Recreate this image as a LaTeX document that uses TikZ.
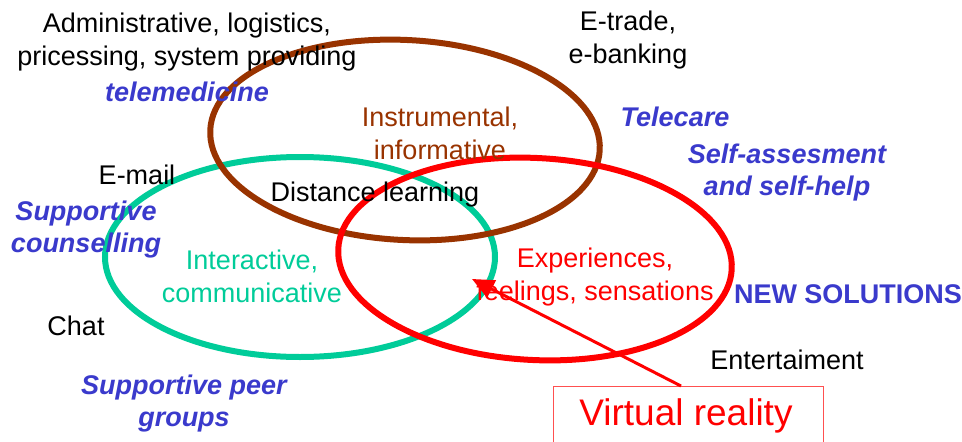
\documentclass[tikz,border=0pt]{standalone}
\usepackage{fontspec}
\setmainfont{Liberation Sans}
\usetikzlibrary{shapes.geometric,arrows.meta}
\definecolor{brownline}{RGB}{153,51,0}
\definecolor{tealline}{RGB}{0,204,153}
\definecolor{redline}{RGB}{255,0,0}
\definecolor{bluetext}{RGB}{58,58,204}
\definecolor{boxline}{RGB}{255,80,80}
\tikzset{
  ring/.style={ellipse, draw, line width=6pt, minimum width=390pt, minimum height=200pt, inner sep=0pt},
  lbl/.style={font=\fontsize{27}{33}\selectfont, align=center, inner sep=0pt},
  blue lbl/.style={lbl, text=bluetext, font=\fontsize{27}{32}\selectfont\bfseries\itshape},
}
\begin{document}
\begin{tikzpicture}[x=1pt,y=-1pt]
\useasboundingbox (0,0) rectangle (962,442);
\fill[white] (0,0) rectangle (962,442);
% the three overlapping domains
\node[ring, draw=tealline] (interactive) at (300,257) {};
\node[ring, draw=brownline, rotate=-3] (instrumental) at (405,140) {};
\node[ring, draw=redline, minimum width=394pt, minimum height=202pt, rotate=-3] (experiences) at (535,259) {};
% labels of the domains
\node[lbl, text=brownline] (instrlbl) at (440,133) {Instrumental,\\informative};
\node[lbl, text=tealline] (interlbl) at (252,276) {Interactive,\\communicative};
\node[lbl, text=redline] (experlbl) at (595,277) {Experiences,\\feelings, sensations};
% services
\node[lbl] (admin) at (187,42) {Administrative, logistics,\\pricessing, system providing};
\node[lbl] (etrade) at (628,40) {E-trade,\\e-banking};
\node[lbl] (email) at (137,175) {E-mail};
\node[lbl] (distance) at (375,195) {Distance learning};
\node[lbl] (chat) at (76,326) {Chat};
\node[lbl] (entert) at (787,360) {Entertaiment};
% applications
\node[blue lbl] (telemed) at (187,92) {telemedicine};
\node[blue lbl] (telecare) at (675,117) {Telecare};
\node[blue lbl] (selfhelp) at (787,173) {Self-assesment\\and self-help};
\node[blue lbl] (counsel) at (86,230) {Supportive\\counselling};
\node[blue lbl] (peer) at (184,404) {Supportive peer\\groups};
\node[lbl, text=bluetext, font=\fontsize{27}{32}\selectfont\bfseries] (newsol) at (848,294) {NEW SOLUTIONS};
% virtual reality callout
\node[draw=boxline, line width=1.2pt, minimum width=270pt, minimum height=70pt, anchor=north west] (vr) at (553,386) {};
\node[text=redline, font=\fontsize{37}{42}\selectfont, inner sep=0pt] (vrtext) at (686,416) {Virtual reality};
\coordinate (vrtip) at (472,279);
\draw[redline, line width=3pt, -{Triangle[length=22pt,width=19pt]}] (vr.north west -| 681,386) -- (vrtip);
\end{tikzpicture}
\end{document}
